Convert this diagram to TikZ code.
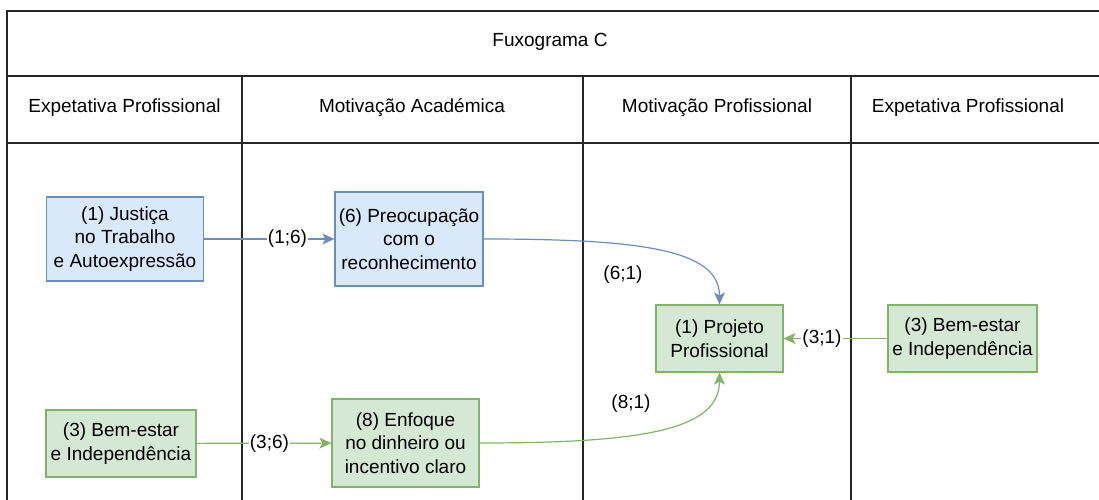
\documentclass[tikz,border=0pt]{standalone}
\usepackage{fontspec}
\setmainfont{Liberation Sans}
\usepackage{tikz}
\usetikzlibrary{arrows.meta}
\definecolor{blueFill}{HTML}{DAE8FC}
\definecolor{blueLine}{HTML}{6C8EBF}
\definecolor{greenFill}{HTML}{D5E8D4}
\definecolor{greenLine}{HTML}{82B366}
\begin{document}
\begin{tikzpicture}[x=1pt,y=1pt,
  txt/.style={font=\fontsize{19}{23.5}\selectfont, inner sep=0pt, align=center},
  bluebox/.style={txt, draw=blueLine, fill=blueFill, line width=1.2pt},
  greenbox/.style={txt, draw=greenLine, fill=greenFill, line width=1.2pt},
  lbl/.style={txt, fill=white, inner xsep=1pt},
  bluearrow/.style={draw=blueLine, line width=1.2pt, -{Stealth[length=12pt,width=11pt,inset=3pt]}},
  greenarrow/.style={draw=greenLine, line width=1.2pt, -{Stealth[length=12pt,width=11pt,inset=3pt]}},
  grid/.style={draw=black!85, line width=1.3pt}]
\useasboundingbox (0,0) rectangle (1099,500);
%\draw[help lines](0,0)grid(1099,500);
\fill[white] (0,0) rectangle (1099,500);
\draw[grid] (1099,489)--(7,489)--(7,0);
\draw[grid] (7,424)--(1099,424) (7,357)--(1099,357);
\draw[grid] (242,424)--(242,0) (583,424)--(583,0) (851,424)--(851,0);
\node[txt] (title) at (550,458) {Fuxograma C};
\node[txt] (h1) at (124.5,392) {Expetativa Profissional};
\node[txt] (h2) at (412,392) {Motivação Académica};
\node[txt] (h3) at (717,392) {Motivação Profissional};
\node[txt] (h4) at (968,392) {Expetativa Profissional};
% boxes
\node[bluebox, minimum width=157pt, minimum height=84pt] (justica) at (125,261) {(1) Justiça\\no Trabalho\\e Autoexpressão};
\node[bluebox, minimum width=148pt, minimum height=94pt] (preocup) at (409,261) {(6) Preocupação\\com o\\reconhecimento};
\node[greenbox, minimum width=150pt, minimum height=67pt] (bemL) at (121,56.5) {(3) Bem-estar\\e Independência};
\node[greenbox, minimum width=147pt, minimum height=88pt] (enfoque) at (405.5,57) {(8) Enfoque\\no dinheiro ou\\incentivo claro};
\node[greenbox, minimum width=127pt, minimum height=67pt] (projeto) at (719.5,161.5) {(1) Projeto\\Profissional};
\node[greenbox, minimum width=149pt, minimum height=67pt] (bemR) at (962.5,161.5) {(3) Bem-estar\\e Independência};
% arrows
\draw[bluearrow] (justica) -- node[lbl, pos=0.64] (l16) {(1;6)} (preocup);
\draw[greenarrow] (bemL) -- node[lbl, pos=0.54] (l36) {(3;6)} (enfoque);
\draw[greenarrow] (bemR) -- node[lbl, pos=0.63] (l31) {(3;1)} (projeto);
\draw[bluearrow] (preocup.east) .. controls +(157,0) and +(0,55) .. (projeto.north);
\draw[greenarrow] (enfoque.east) .. controls +(161,0) and +(0,-58) .. (projeto.south);
\node[txt] (l61) at (623,225) {(6;1)};
\node[txt] (l81) at (631,96) {(8;1)};
\end{tikzpicture}
\end{document}
